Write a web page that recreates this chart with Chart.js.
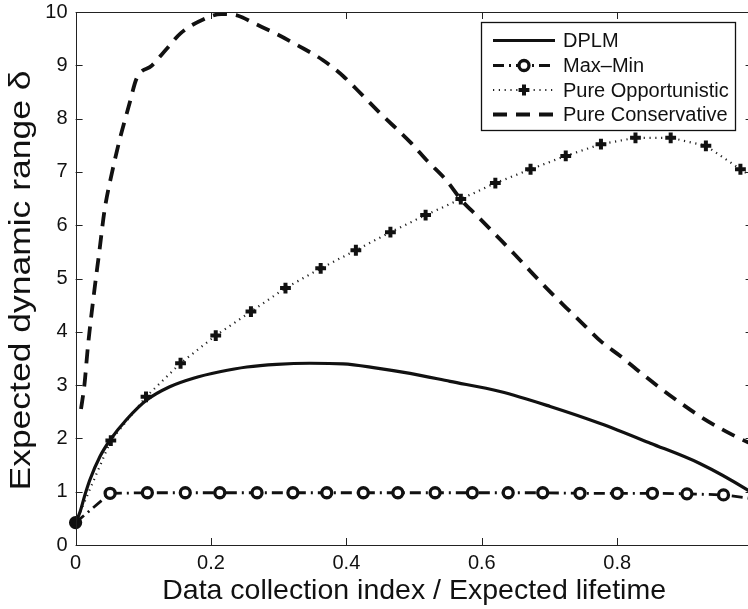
<!DOCTYPE html>
<html>
<head>
<meta charset="utf-8">
<script src="https://cdn.jsdelivr.net/npm/chart.js@4.4.1/dist/chart.umd.min.js"></script>
<style>
  html, body { margin: 0; padding: 0; background: #fff; overflow: hidden; }
  #wrap { position: absolute; left: 0; top: 0; width: 770px; height: 609px; }
</style>
</head>
<body>
<div id="wrap"><canvas id="c" width="770" height="609"></canvas></div>
<script>
// ---------------- data ----------------
const seriesLabels = ['DPLM', 'Max\u2013Min', 'Pure Opportunistic', 'Pure Conservative'];
const xAxisTitle = 'Data collection index / Expected lifetime';
const yAxisTitle = 'Expected dynamic range \u03b4';

const dplmX = [0, 0.0065, 0.014, 0.021, 0.036, 0.051, 0.075, 0.105, 0.139, 0.174, 0.213, 0.253, 0.297, 0.346, 0.395, 0.445, 0.494, 0.553, 0.627, 0.701, 0.775, 0.849, 0.922, 0.993, 1.0];
const dplmY = [0.42, 0.62, 0.95, 1.22, 1.66, 1.97, 2.35, 2.72, 2.97, 3.13, 3.25, 3.34, 3.39, 3.41, 3.40, 3.32, 3.22, 3.07, 2.88, 2.60, 2.28, 1.91, 1.53, 1.03, 0.97];

const maxMinX = [0, 0.051, 0.106, 0.162, 0.213, 0.268, 0.321, 0.371, 0.425, 0.476, 0.531, 0.586, 0.639, 0.690, 0.745, 0.800, 0.852, 0.903, 0.957, 1.0];
const maxMinY = [0.42, 0.97, 0.98, 0.98, 0.98, 0.98, 0.98, 0.98, 0.98, 0.98, 0.98, 0.98, 0.98, 0.98, 0.97, 0.97, 0.97, 0.96, 0.94, 0.87];

const oppX = [0, 0.052, 0.104, 0.155, 0.207, 0.259, 0.310, 0.362, 0.414, 0.465, 0.517, 0.569, 0.620, 0.672, 0.724, 0.776, 0.827, 0.879, 0.931, 0.982, 1.0];
const oppY = [0.42, 1.96, 2.78, 3.41, 3.93, 4.38, 4.82, 5.19, 5.53, 5.87, 6.19, 6.49, 6.79, 7.05, 7.30, 7.52, 7.64, 7.64, 7.49, 7.05, 6.90];

const consX = [0.008, 0.013, 0.018, 0.026, 0.035, 0.043, 0.054, 0.065, 0.080, 0.090, 0.113, 0.134, 0.155, 0.190, 0.215, 0.240, 0.265, 0.298, 0.330, 0.365, 0.395, 0.415, 0.450, 0.495, 0.520, 0.547, 0.570, 0.595, 0.622, 0.648, 0.673, 0.697, 0.724, 0.750, 0.776, 0.804, 0.834, 0.863, 0.893, 0.924, 0.955, 0.993, 1.0];
const consY = [2.55, 3.0, 3.7, 4.6, 5.5, 6.3, 7.0, 7.6, 8.3, 8.75, 9.0, 9.3, 9.6, 9.87, 9.96, 9.93, 9.78, 9.58, 9.36, 9.1, 8.8, 8.55, 8.1, 7.55, 7.2, 6.85, 6.47, 6.15, 5.8, 5.46, 5.12, 4.8, 4.46, 4.14, 3.82, 3.55, 3.24, 2.95, 2.67, 2.4, 2.17, 1.93, 1.9];

const xTickValues = [0, 0.2, 0.4, 0.6, 0.8, 1];
const yTickValues = [0, 1, 2, 3, 4, 5, 6, 7, 8, 9, 10];

// ---------------- helpers ----------------
const pts = (xs, ys) => xs.map((x, i) => ({ x: x, y: ys[i] }));
const FONT = "'Liberation Sans', Arial, Helvetica, sans-serif";
const INK = '#111';

// marker on every point except the trailing edge point
const markerRadius = (r, n) => (ctx) => (ctx.dataIndex < n - 1 ? r : 0);

const datasets = [
  {
    label: seriesLabels[0], data: pts(dplmX, dplmY),
    borderColor: INK, borderWidth: 3.2, pointRadius: 0,
    cubicInterpolationMode: 'monotone', fill: false
  },
  {
    label: seriesLabels[1], data: pts(maxMinX, maxMinY),
    borderColor: INK, borderWidth: 2.8, borderDash: [11, 5, 2, 5],
    pointStyle: 'circle', pointRadius: markerRadius(5.0, maxMinX.length),
    pointBorderWidth: 3.3, pointBorderColor: INK,
    pointBackgroundColor: (ctx) => (ctx.dataIndex === 0 ? INK : '#fff'),
    tension: 0, fill: false, clip: false
  },
  {
    label: seriesLabels[2], data: pts(oppX, oppY),
    borderColor: '#222', borderWidth: 2.2, borderDash: [1.2, 4.6],
    pointStyle: 'cross', pointRadius: markerRadius(5.4, oppX.length),
    pointBorderWidth: 4, pointBorderColor: (ctx) => (ctx.dataIndex === 0 ? '#555' : INK),
    tension: 0, fill: false, clip: false
  },
  {
    label: seriesLabels[3], data: pts(consX, consY),
    borderColor: INK, borderWidth: 3.8, borderDash: [14, 9],
    pointRadius: 0, cubicInterpolationMode: 'monotone', fill: false
  }
];

// ---------------- MATLAB-like box, inward ticks, y title and legend ----------------
const matlabPlugin = {
  id: 'matlabLook',
  afterDraw(chart) {
    const { ctx, chartArea: a, scales } = chart;
    const xs = scales.x, ys = scales.y;
    ctx.save();
    ctx.strokeStyle = '#222';
    ctx.lineWidth = 1;
    ctx.setLineDash([]);
    ctx.beginPath();
    ctx.rect(Math.round(a.left) + 0.5, Math.round(a.top) + 0.5, Math.round(a.right - a.left), Math.round(a.bottom - a.top));
    const L = 7;
    xs.ticks.forEach(t => {
      const px = Math.round(xs.getPixelForValue(t.value)) + 0.5;
      ctx.moveTo(px, a.bottom); ctx.lineTo(px, a.bottom - L);
      ctx.moveTo(px, a.top); ctx.lineTo(px, a.top + L);
    });
    ys.ticks.forEach(t => {
      const py = Math.round(ys.getPixelForValue(t.value)) + 0.5;
      ctx.moveTo(a.left, py); ctx.lineTo(a.left + L, py);
      ctx.moveTo(a.right, py); ctx.lineTo(a.right - L, py);
    });
    ctx.stroke();

    // y axis title (stretched along its length like the reference)
    ctx.save();
    ctx.font = '29px ' + FONT;
    ctx.fillStyle = INK;
    ctx.textAlign = 'center';
    ctx.textBaseline = 'middle';
    const tw = ctx.measureText(yAxisTitle).width;
    const targetLen = 420;
    ctx.translate(22, (a.top + a.bottom) / 2 + 2);
    ctx.rotate(-Math.PI / 2);
    ctx.scale(targetLen / tw, 1);
    ctx.fillText(yAxisTitle, 0, 0);
    ctx.restore();

    // legend
    const bx = 481.5, by = 22.5, bw = 254, bh = 108;
    ctx.fillStyle = '#fff';
    ctx.fillRect(bx, by, bw, bh);
    ctx.strokeStyle = '#111';
    ctx.lineWidth = 1.3;
    ctx.strokeRect(bx, by, bw, bh);
    const rows = [40.5, 65.5, 90, 114.5];
    const x0 = 493, x1 = 555, xm = (x0 + x1) / 2;
    ctx.font = '20px ' + FONT;
    ctx.textBaseline = 'middle';
    ctx.textAlign = 'left';
    chart.data.datasets.forEach((ds, i) => {
      const yy = rows[i];
      ctx.save();
      ctx.strokeStyle = ds.borderColor;
      ctx.lineWidth = ds.borderWidth;
      ctx.setLineDash(ds.borderDash || []);
      ctx.beginPath(); ctx.moveTo(x0, yy); ctx.lineTo(x1, yy); ctx.stroke();
      ctx.setLineDash([]);
      if (ds.pointStyle === 'circle') {
        ctx.beginPath(); ctx.arc(xm, yy, 5.0, 0, Math.PI * 2);
        ctx.fillStyle = '#fff'; ctx.fill();
        ctx.lineWidth = ds.pointBorderWidth; ctx.strokeStyle = INK; ctx.stroke();
      } else if (ds.pointStyle === 'cross') {
        ctx.beginPath();
        ctx.moveTo(xm - 5.4, yy); ctx.lineTo(xm + 5.4, yy);
        ctx.moveTo(xm, yy - 5.4); ctx.lineTo(xm, yy + 5.4);
        ctx.lineWidth = ds.pointBorderWidth; ctx.strokeStyle = INK; ctx.stroke();
      }
      ctx.restore();
      ctx.fillStyle = INK;
      ctx.fillText(ds.label, 563, yy + 1);
    });
    ctx.restore();
  }
};

new Chart(document.getElementById('c'), {
  type: 'line',
  data: { datasets: datasets },
  options: {
    responsive: false,
    animation: false,
    devicePixelRatio: 1,
    layout: { padding: { top: 0, right: 17.4, left: 0, bottom: 0 } },
    plugins: { legend: { display: false }, tooltip: { enabled: false } },
    elements: { line: { borderCapStyle: 'butt' } },
    scales: {
      x: {
        type: 'linear', min: 0, max: 1, position: 'bottom',
        afterBuildTicks: s => { s.ticks = xTickValues.map(v => ({ value: v })); },
        afterFit: s => { s.height = 64; s.paddingLeft = 0; s.paddingRight = 0; },
        grid: { display: false, drawTicks: false },
        border: { display: false },
        ticks: {
          color: INK, padding: 6, font: { family: FONT, size: 20 },
          maxRotation: 0, autoSkip: false,
          callback: v => (v >= 1 ? '' : String(Number(v.toFixed(1))))
        },
        title: {
          display: true, text: xAxisTitle,
          color: INK, font: { family: FONT, size: 28.5 }, padding: { top: 0, bottom: 1 }
        }
      },
      y: {
        type: 'linear', min: 0, max: 10, position: 'left',
        afterBuildTicks: s => { s.ticks = yTickValues.map(v => ({ value: v })); },
        afterFit: s => { s.width = 75.6; s.paddingTop = 12; s.paddingBottom = 0; },
        grid: { display: false, drawTicks: false },
        border: { display: false },
        ticks: { color: INK, padding: 8, font: { family: FONT, size: 20 }, autoSkip: false },
        title: { display: false, text: yAxisTitle }
      }
    }
  },
  plugins: [matlabPlugin]
});
</script>
</body>
</html>
